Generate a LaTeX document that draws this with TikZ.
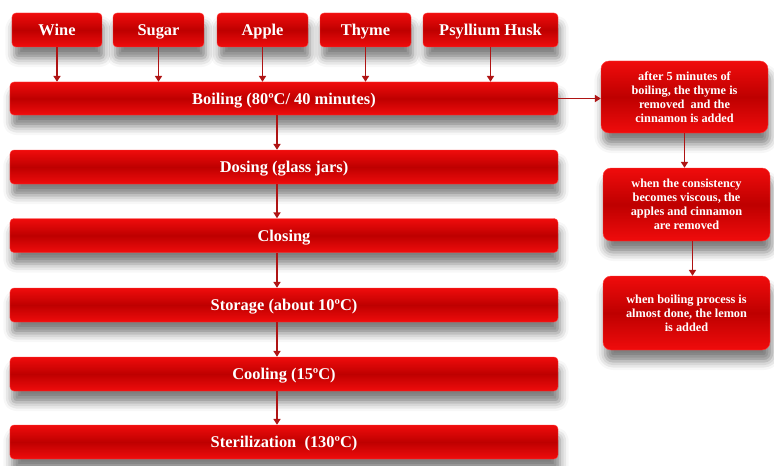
\documentclass[tikz,border=0pt]{standalone}
\usepackage{fontspec}
\setmainfont{Liberation Serif}
\usetikzlibrary{positioning,calc,shadows.blur,arrows.meta}

\definecolor{boxred}{RGB}{240,12,12}
\definecolor{boxdark}{RGB}{190,0,0}
\definecolor{boxedge}{RGB}{255,60,60}
\definecolor{arrowred}{RGB}{175,20,20}

\tikzset{
    stepbox/.style={rectangle, rounded corners=1.2mm, draw=boxedge, line width=0.4pt,
        top color=boxred, bottom color=boxred, middle color=boxdark,
        text=white, font=\fontsize{14}{16}\selectfont\bfseries, text depth=0pt,
        blur shadow={shadow xshift=0.6mm, shadow yshift=-3.4mm, shadow opacity=50, shadow blur radius=2.6mm}},
    notebox/.style={stepbox, rounded corners=2.4mm, align=center, text depth=,
        minimum width=50.1mm, font=\fontsize{10.5}{11.8}\selectfont\bfseries},
    flow/.style={draw=arrowred, line width=1.3pt, -{Triangle[width=6pt,length=5pt]}}
}

\begin{document}
\begin{tikzpicture}[x=0.3mm, y=-0.3mm]
            \useasboundingbox (0,0) rectangle (774,466);
            % Ingredients
            \node[stepbox, minimum width=27mm, minimum height=10.2mm] (wine) at (57,30) {Wine};
            \node[stepbox, minimum width=27.3mm, minimum height=10.2mm] (sugar) at (158.5,30) {Sugar};
            \node[stepbox, minimum width=27.3mm, minimum height=10.2mm] (apple) at (262.5,30) {Apple};
            \node[stepbox, minimum width=27.3mm, minimum height=10.2mm] (thyme) at (365.5,30) {Thyme};
            \node[stepbox, minimum width=40.5mm, minimum height=10.2mm] (husk) at (490.5,30) {Psyllium Husk};
            % Process steps
            \node[stepbox, minimum width=164.4mm, minimum height=9.9mm] (boil) at (284,98.5) {Boiling (80ºC/ 40 minutes)};
            \node[stepbox, minimum width=164.4mm, minimum height=10.2mm] (dose) at (284,167) {Dosing (glass jars)};
            \node[stepbox, minimum width=164.4mm, minimum height=10.2mm] (close) at (284,235.5) {Closing};
            \node[stepbox, minimum width=164.4mm, minimum height=10.2mm] (store) at (284,305) {Storage (about 10ºC)};
            \node[stepbox, minimum width=164.4mm, minimum height=10.2mm] (cool) at (284,374) {Cooling (15ºC)};
            \node[stepbox, minimum width=164.4mm, minimum height=10.2mm] (steril) at (284,442) {Sterilization\enspace(130ºC)};
            % Notes on the boiling
            \node[notebox, minimum height=21.6mm] (note1) at (684.5,97) {after 5 minutes of\\boiling, the thyme is\\removed\enspace and the\\cinnamon is added};
            \node[notebox, minimum height=21.9mm] (note2) at (686.5,204.5) {when the consistency\\becomes viscous, the\\apples and cinnamon\\are removed};
            \node[notebox, minimum height=22.2mm] (note3) at (686.5,313) {when boiling process is\\almost done, the lemon\\is added};

            \coordinate (spine) at (277,0);

            \draw[flow] (wine.south) -- (wine.south |- boil.north);
            \draw[flow] (sugar.south) -- (sugar.south |- boil.north);
            \draw[flow] (apple.south) -- (apple.south |- boil.north);
            \draw[flow] (thyme.south) -- (thyme.south |- boil.north);
            \draw[flow] (husk.south) -- (husk.south |- boil.north);

            \draw[flow] (spine |- boil.south) -- (spine |- dose.north);
            \draw[flow] (spine |- dose.south) -- (spine |- close.north);
            \draw[flow] (spine |- close.south) -- (spine |- store.north);
            \draw[flow] (spine |- store.south) -- (spine |- cool.north);
            \draw[flow] (spine |- cool.south) -- (spine |- steril.north);

            \draw[flow] (boil.east) -- (note1.west |- boil.east);
            \draw[flow] (note1.south) -- (note1.south |- note2.north);
            \draw[flow] ($(note2.south)+(6,0)$) -- ($(note2.south |- note3.north)+(6,0)$);

        \end{tikzpicture}
\end{document}
